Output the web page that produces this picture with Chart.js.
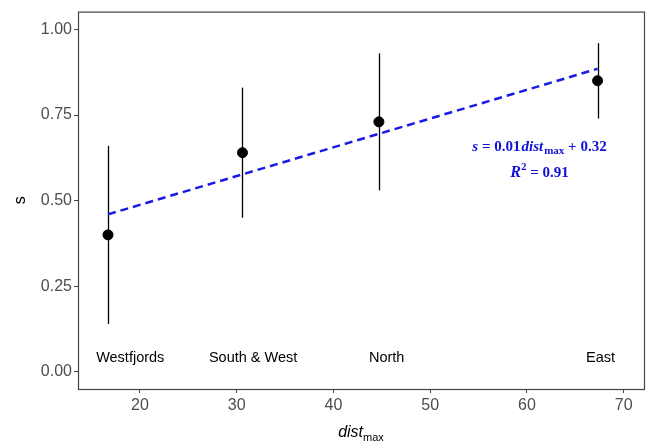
<!DOCTYPE html>
<html>
<head>
<meta charset="UTF-8">
<title>s vs dist max</title>
<script src="https://cdn.jsdelivr.net/npm/chart.js"></script>
<style>
  body { margin: 0; background: #fff; }
  #wrap { width: 654px; height: 444px; }
</style>
</head>
<body>
<div id="wrap"><canvas id="chart"></canvas></div>
<script>
// values
const sites = ['Westfjords', 'South & West', 'North', 'East'];
const distMax = [16.7, 30.6, 44.7, 67.3];
const sMean = [0.40, 0.64, 0.73, 0.85];
const sLow = [0.14, 0.45, 0.53, 0.74];
const sHigh = [0.66, 0.83, 0.93, 0.96];
const fitX = [16.7, 67.3];
const fitY = [0.46, 0.885];
const labelX = [19.0, 31.7, 45.5, 67.6];
const labelY = 0.04;
const xTicks = [20, 30, 40, 50, 60, 70];
const yTicks = [0, 0.25, 0.5, 0.75, 1];
const eqPos = { x: 61.3, y1: 0.659, y2: 0.583 };

const tickColor = '#4d4d4d';

// draw pieces of text one after another, centred on cx
function drawRuns(ctx, runs, cx, y) {
    let total = 0;
    runs.forEach(r => { ctx.font = r.font; r.w = ctx.measureText(r.t).width + (r.gap || 0); total += r.w; });
    let x = cx - total / 2;
    runs.forEach(r => {
        ctx.font = r.font;
        ctx.fillText(r.t, x, y + (r.dy || 0));
        x += r.w;
    });
}

const extras = {
    id: 'extras',
    beforeDatasetsDraw(chart) {
        const ctx = chart.ctx, xs = chart.scales.x, ys = chart.scales.y;
        ctx.save();
        // error bars
        ctx.strokeStyle = '#000';
        ctx.lineWidth = 1.3;
        for (let i = 0; i < distMax.length; i++) {
            const px = Math.round(xs.getPixelForValue(distMax[i])) + 0.5;
            ctx.beginPath();
            ctx.moveTo(px, ys.getPixelForValue(sLow[i]));
            ctx.lineTo(px, ys.getPixelForValue(sHigh[i]));
            ctx.stroke();
        }
        // site labels
        ctx.fillStyle = '#000';
        ctx.font = '14.5px "Liberation Sans", Arial, sans-serif';
        ctx.textAlign = 'center';
        ctx.textBaseline = 'middle';
        for (let i = 0; i < sites.length; i++) {
            ctx.fillText(sites[i], xs.getPixelForValue(labelX[i]), ys.getPixelForValue(labelY));
        }
        ctx.restore();
    },
    afterDraw(chart) {
        const ctx = chart.ctx, a = chart.chartArea, xs = chart.scales.x, ys = chart.scales.y;
        ctx.save();
        // panel border
        ctx.strokeStyle = '#444';
        ctx.lineWidth = 1.2;
        ctx.strokeRect(a.left + 0.5, a.top + 0.5, a.right - a.left, a.bottom - a.top);

        // equation
        ctx.fillStyle = '#1010d8';
        ctx.textAlign = 'left';
        ctx.textBaseline = 'alphabetic';
        const serif = '"Liberation Serif", "Times New Roman", serif';
        const cx = xs.getPixelForValue(eqPos.x);
        drawRuns(ctx, [
            { t: 's', font: 'italic bold 15px ' + serif },
            { t: ' = 0.01', font: 'bold 15px ' + serif, gap: 1 },
            { t: 'dist', font: 'italic bold 15px ' + serif, gap: 1 },
            { t: 'max', font: 'bold 11px ' + serif, dy: 3 },
            { t: ' + 0.32', font: 'bold 15px ' + serif }
        ], cx, ys.getPixelForValue(eqPos.y1) + 5);
        drawRuns(ctx, [
            { t: 'R', font: 'italic bold 16px ' + serif },
            { t: '2', font: 'bold 11px ' + serif, dy: -7 },
            { t: ' = 0.91', font: 'bold 15px ' + serif }
        ], cx, ys.getPixelForValue(eqPos.y2) + 5);

        // axis titles
        ctx.fillStyle = '#000';
        const sans = '"Liberation Sans", Arial, sans-serif';
        const mid = (a.left + a.right) / 2;
        drawRuns(ctx, [
            { t: 'dist', font: 'italic 16px ' + sans },
            { t: 'max', font: '11px ' + sans, dy: 4 }
        ], mid, 437);
        ctx.translate(25, (a.top + a.bottom) / 2);
        ctx.rotate(-Math.PI / 2);
        ctx.textAlign = 'center';
        ctx.font = '16px ' + sans;
        ctx.fillText('s', 0, 0);
        ctx.restore();
    }
};

new Chart(document.getElementById('chart'), {
    type: 'scatter',
    data: {
        datasets: [
            {
                type: 'line',
                label: 'fit',
                data: fitX.map((x, i) => ({ x: x, y: fitY[i] })),
                borderColor: '#1a1ae6',
                borderWidth: 2.5,
                borderDash: [8, 5],
                pointRadius: 0,
                fill: false
            },
            {
                label: 's',
                data: distMax.map((x, i) => ({ x: x, y: sMean[i] })),
                backgroundColor: '#000',
                borderColor: '#000',
                pointRadius: 5,
                pointHoverRadius: 5
            }
        ]
    },
    options: {
        responsive: true,
        maintainAspectRatio: false,
        animation: false,
        events: [],
        layout: { padding: { top: 11, right: 10, left: 0, bottom: 0 } },
        plugins: { legend: { display: false }, tooltip: { enabled: false } },
        scales: {
            x: {
                type: 'linear',
                min: 13.6,
                max: 72.1,
                afterBuildTicks: s => { s.ticks = xTicks.map(v => ({ value: v })); },
                afterFit: s => { s.height = 55; },
                grid: { drawOnChartArea: false, tickLength: 4, color: '#444' },
                border: { display: false },
                ticks: { color: tickColor, font: { size: 16, family: '"Liberation Sans", Arial' }, padding: 3, maxRotation: 0 }
            },
            y: {
                type: 'linear',
                min: -0.05,
                max: 1.052,
                afterBuildTicks: s => { s.ticks = yTicks.map(v => ({ value: v })); },
                afterFit: s => { s.width = 78; },
                grid: { drawOnChartArea: false, tickLength: 4, color: '#444' },
                border: { display: false },
                ticks: {
                    color: tickColor,
                    font: { size: 16, family: '"Liberation Sans", Arial' },
                    padding: 2,
                    callback: v => v.toFixed(2)
                }
            }
        }
    },
    plugins: [extras]
});
</script>
</body>
</html>
